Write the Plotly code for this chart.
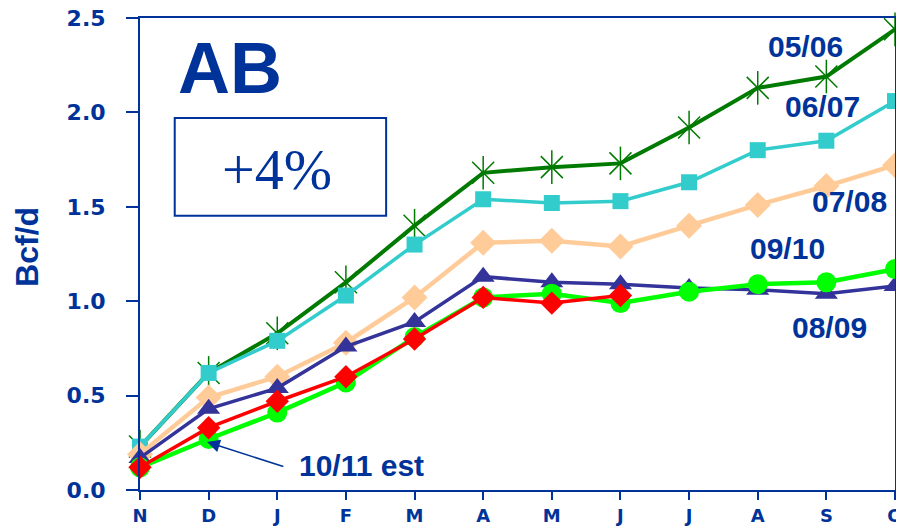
import plotly.graph_objects as go

months = ["N", "D", "J", "F", "M", "A", "M", "J", "J", "A", "S", "O"]
y_ticks = [0.0, 0.5, 1.0, 1.5, 2.0, 2.5]

s0506 = [0.23, 0.62, 0.83, 1.10, 1.40, 1.68, 1.71, 1.73, 1.92, 2.13, 2.19, 2.44]
s0607 = [0.23, 0.62, 0.79, 1.03, 1.30, 1.54, 1.52, 1.53, 1.63, 1.80, 1.85, 2.06]
s0708 = [0.19, 0.49, 0.60, 0.78, 1.02, 1.31, 1.32, 1.29, 1.40, 1.51, 1.61, 1.72]
s0809 = [0.17, 0.43, 0.54, 0.76, 0.89, 1.13, 1.10, 1.09, 1.07, 1.06, 1.04, 1.08]
s0910 = [0.12, 0.27, 0.41, 0.57, 0.81, 1.02, 1.04, 0.99, 1.05, 1.09, 1.10, 1.17]
s1011 = [0.12, 0.33, 0.47, 0.60, 0.80, 1.02, 0.99, 1.03]

xs = list(range(len(months)))
NAVY = "#003399"
DG = "#007A00"

fig = go.Figure()

# 05/06 asterisk: line with x markers plus vertical-line markers
fig.add_trace(go.Scatter(x=xs, y=s0506, mode="lines+markers",
                         line=dict(color=DG, width=4),
                         marker=dict(symbol="x-thin-open", size=22, color=DG,
                                     line=dict(color=DG, width=1.5)),
                         cliponaxis=False, showlegend=False))
fig.add_trace(go.Scatter(x=xs, y=s0506, mode="markers",
                         marker=dict(symbol="line-ns-open", size=24, color=DG,
                                     line=dict(color=DG, width=1.5)),
                         cliponaxis=False, showlegend=False))
fig.add_trace(go.Scatter(x=xs, y=s0607, mode="lines+markers",
                         line=dict(color="#33CCCC", width=3.5),
                         marker=dict(symbol="square", size=16, color="#33CCCC"),
                         cliponaxis=False, showlegend=False))
fig.add_trace(go.Scatter(x=xs, y=s0708, mode="lines+markers",
                         line=dict(color="#FFCC99", width=4.5),
                         marker=dict(symbol="diamond", size=20, color="#FFCC99"),
                         cliponaxis=False, showlegend=False))
fig.add_trace(go.Scatter(x=xs, y=s0809, mode="lines+markers",
                         line=dict(color="#333399", width=3.5),
                         marker=dict(symbol="triangle-up", size=20, color="#333399"),
                         cliponaxis=False, showlegend=False))
fig.add_trace(go.Scatter(x=xs, y=s0910, mode="lines+markers",
                         line=dict(color="#00FF00", width=4.5),
                         marker=dict(symbol="circle", size=20, color="#00FF00"),
                         cliponaxis=False, showlegend=False))
fig.add_trace(go.Scatter(x=xs[:len(s1011)], y=s1011, mode="lines+markers",
                         line=dict(color="#FF0000", width=3.5),
                         marker=dict(symbol="diamond", size=18, color="#FF0000"),
                         cliponaxis=False, showlegend=False))

lab_font = dict(family="Liberation Sans, Arial", size=30, color=NAVY)
labels = [
    ("05/06", 9.69, 2.35),
    ("06/07", 9.94, 2.03),
    ("07/08", 10.34, 1.53),
    ("09/10", 9.43, 1.28),
    ("08/09", 10.05, 0.86),
    ("10/11 est", 3.23, 0.13),
]
annotations = [dict(x=x, y=y, xref="x", yref="y", text="<b>%s</b>" % t,
                    showarrow=False, font=lab_font, xanchor="center", yanchor="middle")
               for t, x, y in labels]

annotations.append(dict(x=0.976, y=0.254, xref="x", yref="y",
                        ax=2.11, ay=0.122, axref="x", ayref="y",
                        text="", showarrow=True, arrowhead=2, arrowsize=1.6,
                        arrowwidth=1.6, arrowcolor=NAVY))

annotations.append(dict(x=0.119, y=0.894, xref="paper", yref="paper",
                        text="<b>AB</b>", showarrow=False,
                        font=dict(family="Liberation Sans, Arial", size=72, color=NAVY),
                        xanchor="center", yanchor="middle"))
annotations.append(dict(x=0.181, y=0.680, xref="paper", yref="paper",
                        text="+4%", showarrow=False,
                        font=dict(family="Liberation Serif, Times New Roman", size=58, color=NAVY),
                        xanchor="center", yanchor="middle"))
annotations.append(dict(x=0, y=0.515, xref="paper", yref="paper", xshift=-113,
                        text="<b>Bcf/d</b>", showarrow=False, textangle=-90,
                        font=dict(family="Liberation Sans, Arial", size=32, color=NAVY),
                        xanchor="center", yanchor="middle"))

tick_family = "DejaVu Sans, Verdana, sans-serif"

# page body has an 8px margin, so the figure is sized to fit the window
fig.update_layout(
    width=896, height=524,
    margin=dict(l=132, r=9, t=10, b=42, autoexpand=False),
    paper_bgcolor="white", plot_bgcolor="white",
    annotations=annotations,
    shapes=[dict(type="rect", xref="paper", yref="paper",
                 x0=0.046, x1=0.326, y0=0.581, y1=0.788,
                 line=dict(color=NAVY, width=2))],
    xaxis=dict(range=[0, len(months) - 1], tickvals=xs,
               ticktext=["<b>%s</b>" % m for m in months],
               automargin=False, ticklabeloverflow="allow",
               showgrid=False, zeroline=False, showline=True, linecolor=NAVY,
               linewidth=2, mirror=True, ticks="outside", ticklen=8,
               tickcolor=NAVY, tickwidth=2,
               tickfont=dict(family=tick_family, size=18, color=NAVY)),
    yaxis=dict(range=[0, 2.5], tickvals=y_ticks,
               ticktext=["<b>%.1f</b>" % v for v in y_ticks],
               automargin=False, ticklabeloverflow="allow",
               showgrid=False, zeroline=False, showline=True, linecolor=NAVY,
               linewidth=2, mirror=True, ticks="outside", ticklen=12,
               tickcolor=NAVY, tickwidth=2, ticklabelstandoff=16,
               tickfont=dict(family=tick_family, size=22, color=NAVY)),
)

fig.write_html("out.html")
